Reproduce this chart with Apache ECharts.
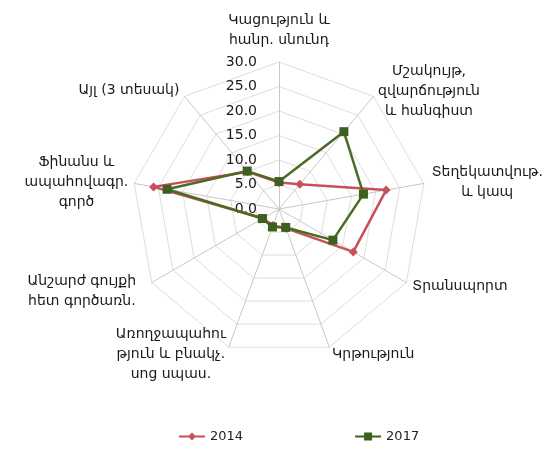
<!DOCTYPE html>
<html>
<head>
<meta charset="utf-8">
<script src="https://cdn.jsdelivr.net/npm/echarts@6/dist/echarts.min.js"></script>
<style>
html,body{margin:0;padding:0;background:#fff;}
#chart{width:553px;height:452px;}
</style>
</head>
<body>
<div id="chart"></div>
<script>
// Categories, clockwise from the top (as in the reference)
const categories = [
  "Կացություն և\nհանր. սնունդ",
  "Մշակույթ,\nզվարճություն\nև հանգիստ",
  "Տեղեկատվութ.\nև կապ",
  "Տրանսպորտ",
  "Կրթություն",
  "Առողջապահու\nթյուն և բնակչ.\nսոց սպաս.",
  "Անշարժ գույքի\nհետ գործառն.",
  "Ֆինանս և\nապահովագր.\nգործ",
  "Այլ (3 տեսակ)"
];
const values2014 = [5.4, 6.6, 22.2, 17.5, 4.2, 3.6, 3.8, 26.0, 9.9];
const values2017 = [5.6, 20.6, 17.5, 12.7, 4.0, 3.9, 3.9, 23.2, 10.1];
const seriesNames = ["2014", "2017"];
const axisMax = 30;
const axisStep = 5;

// label gaps per category (clockwise order)
const nameGaps = [12, 7, 8, 7, 8, 8, 18, 6, 8];

// ECharts places radar indicators counter-clockwise; reorder
const order = [0, 8, 7, 6, 5, 4, 3, 2, 1];
const indicator = order.map((i, k) => ({
  name: categories[i],
  min: 0,
  max: axisMax,
  nameGap: nameGaps[i],
  axisLabel: { show: k === 0 }
}));
const pick = arr => order.map(i => arr[i]);

const red = '#c8505a';
const green = '#4a6b22';

const chart = echarts.init(document.getElementById('chart'), null, { renderer: 'canvas' });
chart.setOption({
  animation: false,
  backgroundColor: '#fff',
  textStyle: { fontFamily: 'DejaVu Sans' },
  legend: {
    data: [
      { name: seriesNames[0], icon: 'path://M0,4 L26,4 L26,6 L0,6 Z M13,1 L17,5 L13,9 L9,5 Z' },
      { name: seriesNames[1], icon: 'path://M0,4 L26,4 L26,6 L0,6 Z M9,1 L17,1 L17,9 L9,9 Z' }
    ],
    bottom: 4,
    left: 174,
    itemGap: 112,
    itemWidth: 26,
    itemHeight: 10,
    textStyle: { fontFamily: 'DejaVu Sans', fontSize: 13, color: '#222' }
  },
  radar: {
    center: [279, 209],
    radius: 147,
    startAngle: 90,
    shape: 'polygon',
    splitNumber: axisMax / axisStep,
    indicator: indicator,
    axisName: {
      color: '#1a1a1a',
      fontFamily: 'DejaVu Sans',
      fontSize: 14,
      formatter: function (name) {
        return name.split('\n').map(l => '{c|' + l + '}').join('\n');
      },
      rich: {
        c: { align: 'center', fontSize: 14, lineHeight: 20, color: '#1a1a1a', fontFamily: 'DejaVu Sans' }
      }
    },
    axisLine: { lineStyle: { color: '#c8c8c8', width: 1 } },
    splitLine: { lineStyle: { color: '#dedede', width: 1 } },
    splitArea: { show: false },
    axisTick: { show: false },
    axisLabel: {
      show: false,
      color: '#1a1a1a',
      fontSize: 14,
      fontFamily: 'DejaVu Sans',
      margin: 22,
      formatter: v => v.toFixed(1)
    }
  },
  series: [{
    type: 'radar',
    data: [
      {
        name: seriesNames[0],
        value: pick(values2014),
        symbol: 'diamond',
        symbolSize: 9,
        lineStyle: { color: red, width: 2.5 },
        itemStyle: { color: red }
      },
      {
        name: seriesNames[1],
        value: pick(values2017),
        symbol: 'rect',
        symbolSize: 9,
        lineStyle: { color: green, width: 2.5 },
        itemStyle: { color: '#3f5f1e' }
      }
    ]
  }]
});
</script>
</body>
</html>
